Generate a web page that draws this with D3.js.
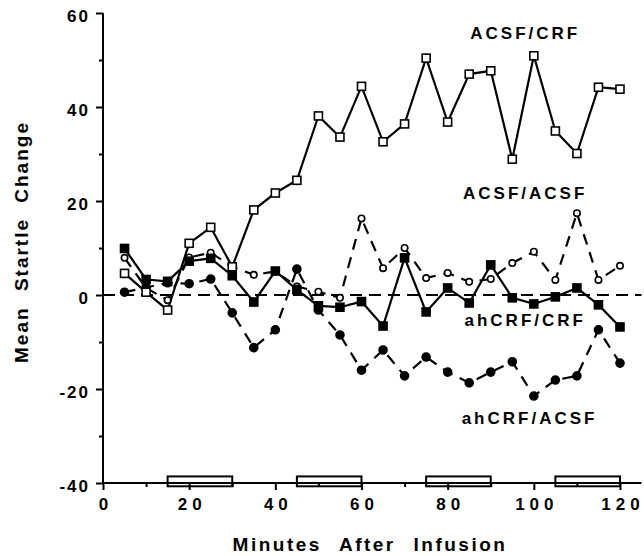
<!DOCTYPE html>
<html>
<head>
<meta charset="utf-8">
<script src="https://cdn.jsdelivr.net/npm/d3@7"></script>
<style>
  body { margin: 0; background: #fff; }
  text { font-family: "Liberation Sans", Arial, sans-serif; font-weight: bold; fill: #000; }
</style>
</head>
<body>
<svg id="chart" width="644" height="556"></svg>
<script>
// minutes after infusion
var minutes = [5, 10, 15, 20, 25, 30, 35, 40, 45, 50, 55, 60, 65, 70, 75, 80, 85, 90, 95, 100, 105, 110, 115, 120]

var acsfCrf = [4.6, 0.6, -3.2, 11.0, 14.4, 6.0, 18.1, 21.7, 24.4, 38.1, 33.6, 44.4, 32.6, 36.4, 50.4, 36.8, 47.0, 47.7, 28.9, 50.9, 34.9, 30.1, 44.2, 43.8]
var acsfAcsf = [7.9, 1.5, -1.1, 8.0, 9.0, 6.0, 4.3, 5.0, 1.8, 0.7, -0.6, 16.3, 5.7, 10.0, 3.6, 4.7, 2.8, 3.4, 6.8, 9.2, 3.2, 17.4, 3.2, 6.2]
var ahCrfCrf = [9.9, 3.3, 2.9, 7.2, 7.8, 4.1, -1.5, 5.1, 1.1, -2.3, -2.6, -1.4, -6.6, 7.9, -3.6, 1.5, -1.7, 6.4, -0.6, -1.9, -0.4, 1.5, -2.1, -6.8]
var ahCrfAcsf = [0.6, 1.6, 2.6, 2.4, 3.4, -3.8, -11.2, -7.4, 5.5, -3.2, -8.5, -16.0, -11.7, -17.2, -13.2, -16.4, -18.7, -16.4, -14.2, -21.5, -18.1, -17.2, -7.4, -14.5]

var seriesNames = ["ACSF/CRF", "ACSF/ACSF", "ahCRF/CRF", "ahCRF/ACSF"]
// where each series name sits: [minutes, value]
var labelSpots = [[98, 54.5], [98, 20.5], [98, -6.5], [99, -27.5]]

// bars along the x axis (start, end minutes)
var barStarts = [15, 45, 75, 105]
var barEnds = [30, 60, 90, 120]

var xTicks = [0, 20, 40, 60, 80, 100, 120]
var xMinor = [10, 30, 50, 70, 90, 110]
var yTicks = [-40, -20, 0, 20, 40, 60]
var yMinor = [-30, -10, 10, 30, 50]

var dimensions = {
    width: 644,
    height: 556,
    margin: { top: 13, bottom: 73, left: 103, right: 24 }
}

var svg = d3.select("#chart")

var xScale = d3.scaleLinear()
               .domain([0, 120])
               .range([dimensions.margin.left, dimensions.width - dimensions.margin.right])
var yScale = d3.scaleLinear()
               .domain([-40, 60])
               .range([dimensions.height - dimensions.margin.bottom, dimensions.margin.top])

var y0 = yScale(-40)
var x0 = xScale(0)

// axes
var xAxisGen = d3.axisBottom(xScale).tickValues(xTicks).tickSize(7).tickSizeOuter(0).tickPadding(8)
                 .tickFormat(d => String(d))
var xAxis = svg.append("g")
               .attr("transform", `translate(0,${y0})`)
               .call(xAxisGen)
xAxis.select(".domain").remove()
xAxis.selectAll(".tick line").attr("stroke-width", 2)
xAxis.selectAll(".tick text")
     .style("font-size", "17px")
     .style("letter-spacing", "5px")
     .attr("dx", "2.5px")
var xMinorGen = d3.axisBottom(xScale).tickValues(xMinor).tickSize(4).tickFormat("")
svg.append("g")
   .attr("transform", `translate(0,${y0})`)
   .call(xMinorGen)
   .call(g => g.select(".domain").remove())
   .selectAll(".tick line").attr("stroke-width", 2)

var yAxisGen = d3.axisLeft(yScale).tickValues(yTicks).tickSize(7).tickSizeOuter(0).tickPadding(6)
                 .tickFormat(d => String(d))
var yAxis = svg.append("g")
               .attr("transform", `translate(${x0},0)`)
               .call(yAxisGen)
yAxis.select(".domain").remove()
yAxis.selectAll(".tick line").attr("stroke-width", 2)
yAxis.selectAll(".tick text")
     .style("font-size", "17px")
     .style("letter-spacing", "2px")
     .attr("dy", "0.5em")
var yMinorGen = d3.axisLeft(yScale).tickValues(yMinor).tickSize(4).tickFormat("")
svg.append("g")
   .attr("transform", `translate(${x0},0)`)
   .call(yMinorGen)
   .call(g => g.select(".domain").remove())
   .selectAll(".tick line").attr("stroke-width", 2)

// axis lines
svg.append("line")
   .attr("x1", x0).attr("x2", x0)
   .attr("y1", yScale(60)).attr("y2", y0)
   .attr("stroke", "black").attr("stroke-width", 2)
svg.append("line")
   .attr("x1", x0 - 1).attr("x2", xScale(125))
   .attr("y1", y0).attr("y2", y0)
   .attr("stroke", "black").attr("stroke-width", 2)

// infusion bars
svg.append("g")
   .selectAll("rect")
   .data(barStarts)
   .enter()
   .append("rect")
   .attr("x", d => xScale(d))
   .attr("y", yScale(-38.6))
   .attr("width", (d, i) => xScale(barEnds[i]) - xScale(d))
   .attr("height", yScale(-40.7) - yScale(-38.6))
   .attr("fill", "none")
   .attr("stroke", "black")
   .attr("stroke-width", 2)

// zero line
svg.append("line")
   .attr("x1", x0).attr("x2", xScale(125))
   .attr("y1", yScale(0)).attr("y2", yScale(0))
   .attr("stroke", "black").attr("stroke-width", 2)
   .attr("stroke-dasharray", "12,7")

var lineGen = d3.line()
                .x((d, i) => xScale(minutes[i]))
                .y(d => yScale(d))

var allSeries = [
    { values: acsfAcsf, dash: "11,8", marker: "circle", fill: "white" },
    { values: ahCrfAcsf, dash: "11,8", marker: "circle", fill: "black" },
    { values: ahCrfCrf, dash: null, marker: "square", fill: "black" },
    { values: acsfCrf, dash: null, marker: "square", fill: "white" }
]

allSeries.forEach(function(s) {
    svg.append("path")
       .datum(s.values)
       .attr("d", lineGen)
       .attr("fill", "none")
       .attr("stroke", "black")
       .attr("stroke-width", 2.2)
       .attr("stroke-dasharray", s.dash)
})

allSeries.forEach(function(s) {
    var g = svg.append("g")
    if (s.marker == "circle") {
        g.selectAll("circle")
         .data(s.values)
         .enter()
         .append("circle")
         .attr("cx", (d, i) => xScale(minutes[i]))
         .attr("cy", d => yScale(d))
         .attr("r", s.fill == "white" ? 3.2 : 4)
         .attr("fill", s.fill)
         .attr("stroke", "black")
         .attr("stroke-width", 1.6)
    } else {
        var size = 8
        g.selectAll("rect")
         .data(s.values)
         .enter()
         .append("rect")
         .attr("x", (d, i) => xScale(minutes[i]) - size / 2)
         .attr("y", d => yScale(d) - size / 2)
         .attr("width", size)
         .attr("height", size)
         .attr("fill", s.fill)
         .attr("stroke", "black")
         .attr("stroke-width", 1.6)
    }
})

// series names
svg.append("g")
   .selectAll("text")
   .data(seriesNames)
   .enter()
   .append("text")
   .attr("x", (d, i) => xScale(labelSpots[i][0]))
   .attr("y", (d, i) => yScale(labelSpots[i][1]))
   .attr("text-anchor", "middle")
   .style("font-size", "17px")
   .style("letter-spacing", "3px")
   .text(d => d)

// axis titles
svg.append("text")
   .attr("x", 370)
   .attr("y", 551)
   .attr("text-anchor", "middle")
   .style("font-size", "19px")
   .style("letter-spacing", "2.5px")
   .style("word-spacing", "10px")
   .text("Minutes After Infusion")

svg.append("text")
   .attr("transform", "translate(28,242) rotate(-90)")
   .attr("text-anchor", "middle")
   .style("font-size", "19px")
   .style("letter-spacing", "2px")
   .style("word-spacing", "8px")
   .text("Mean Startle Change")
</script>
</body>
</html>
